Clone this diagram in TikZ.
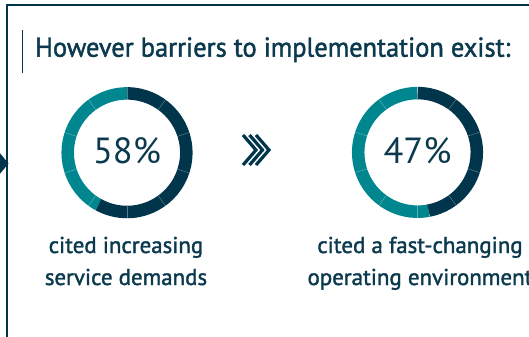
\documentclass[tikz,border=0pt]{standalone}
\usepackage{fontspec}
\setmainfont{PT Sans}
\newfontfamily\medfont[FakeBold=1.6]{PT Sans}
\definecolor{dark}{HTML}{00354B}
\definecolor{teal}{HTML}{00868F}
\definecolor{txt}{HTML}{0B3A4E}
\tikzset{
  ring/.style={line width=12.5bp},
  sep/.style={white, opacity=0.35, line width=0.5bp},
  pct/.style={font=\fontsize{36.5}{36.5}\selectfont, text=txt, inner sep=0pt, anchor=base},
  captxt/.style={font=\medfont\fontsize{23}{23}\selectfont, text=txt, inner sep=0pt, anchor=base},
  chev/.style={draw=dark, line width=3.2bp, line cap=butt, line join=miter},
}
\begin{document}
\begin{tikzpicture}[x=1bp,y=1bp]
\useasboundingbox (0,0) rectangle (529,336);
\clip (0,0) rectangle (529,336);
% frame
\draw[dark, line width=2bp] (535,331) -- (7,331) -- (7,-5);
\fill[dark] (-1,184) -- (8.5,172.5) -- (-1,161) -- cycle;
% title
\draw[dark, line width=1bp] (22.5,306) -- (22.5,263);
\node[font=\medfont\fontsize{27.5}{27.5}\selectfont, text=txt, inner sep=0pt, anchor=base west] (title) at (35,279.3) {\scalebox{0.965}[1]{However barriers to implementation exist:}};
% donut 1
\coordinate (c1) at (127,183.3);
\draw[ring, teal] (c1) ++(-118.8:59.3) arc[start angle=-118.8, end angle=-270, radius=59.3];
\draw[ring, dark] (c1) ++(90:59.3) arc[start angle=90, end angle=-118.8, radius=59.3];
\foreach \a in {90,54,18,-18,-54,-90,-126,-162,162,126}
  \draw[sep] (c1) ++(\a:53) -- ++(\a:12.6);
\node[pct] (p1) at (127,172.7) {58\%};
% donut 2
\coordinate (c2) at (417.5,183.6);
\draw[ring, teal] (c2) ++(-79.2:59.3) arc[start angle=-79.2, end angle=-270, radius=59.3];
\draw[ring, dark] (c2) ++(90:59.3) arc[start angle=90, end angle=-79.2, radius=59.3];
\foreach \a in {90,54,18,-18,-54,-90,-126,-162,162,126}
  \draw[sep] (c2) ++(\a:53) -- ++(\a:12.6);
\node[pct] (p2) at (417.5,172.7) {47\%};
% chevrons
\foreach \dx in {0,6.5,13}
  \draw[chev] (243+\dx,201) -- (256+\dx,186) -- (243+\dx,171);
% captions
\node[captxt] (a1) at (126,83) {cited increasing};
\node[captxt] (a2) at (126,51) {service demands};
\node[captxt] (b1) at (420,83) {cited a fast-changing};
\node[captxt] (b2) at (420,51) {operating environment};
\end{tikzpicture}
\end{document}
